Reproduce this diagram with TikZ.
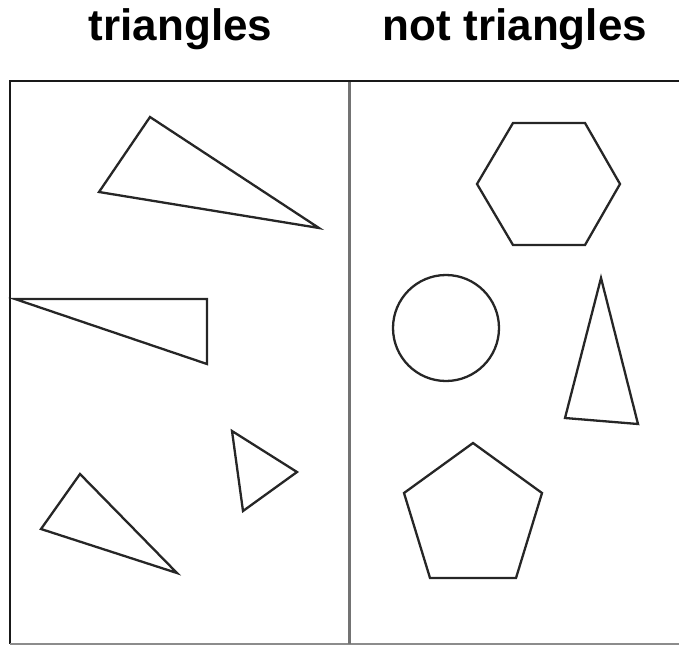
\documentclass[tikz,border=0pt]{standalone}
\usepackage{fontspec}
\setmainfont{Liberation Sans}
\begin{document}
\begin{tikzpicture}[x=1pt,y=-1pt,
  shape line/.style={draw=black!85, line width=2.3pt, line join=miter},
  frame line/.style={draw=black!90, line width=2.6pt},
  divider line/.style={draw=black!55, line width=3pt},
  heading/.style={font=\bfseries\fontsize{44}{50}\selectfont, anchor=base, inner sep=0pt}]
\useasboundingbox (0,0) rectangle (679,646);
% headings
\node[heading] (h1) at (180.5,40) {triangles};
\node[heading] (h2) at (515,40) {not triangles};
% frame
\coordinate (tl) at (10,81);
\coordinate (tr) at (690,81);
\coordinate (bl) at (10,644);
\coordinate (br) at (690,644);
\coordinate (dt) at (349,82);
\coordinate (db) at (349,644);
\draw[frame line] (tr) -- (tl) -- (bl);
\draw[draw=black!45, line width=2.2pt] (bl) -- (br);
\draw[divider line] (dt) -- (db);
% triangles
\draw[shape line] (150,117) -- (99,192) -- (319,228) -- cycle;
\draw[shape line] (15,299) -- (207,299) -- (207,364) -- cycle;
\draw[shape line] (232,431) -- (297,472) -- (243,511) -- cycle;
\draw[shape line] (80,474) -- (41,529) -- (177,573) -- cycle;
% not triangles
\draw[shape line] (513,123) -- (585,123) -- (620,184) -- (585,245) -- (513,245) -- (477,184) -- cycle;
\draw[shape line] (446,328) circle[radius=53];
\draw[shape line] (601,278) -- (565,418) -- (638,424) -- cycle;
\draw[shape line] (473,443) -- (542,493) -- (516,578) -- (430,578) -- (404,493) -- cycle;
\end{tikzpicture}
\end{document}
